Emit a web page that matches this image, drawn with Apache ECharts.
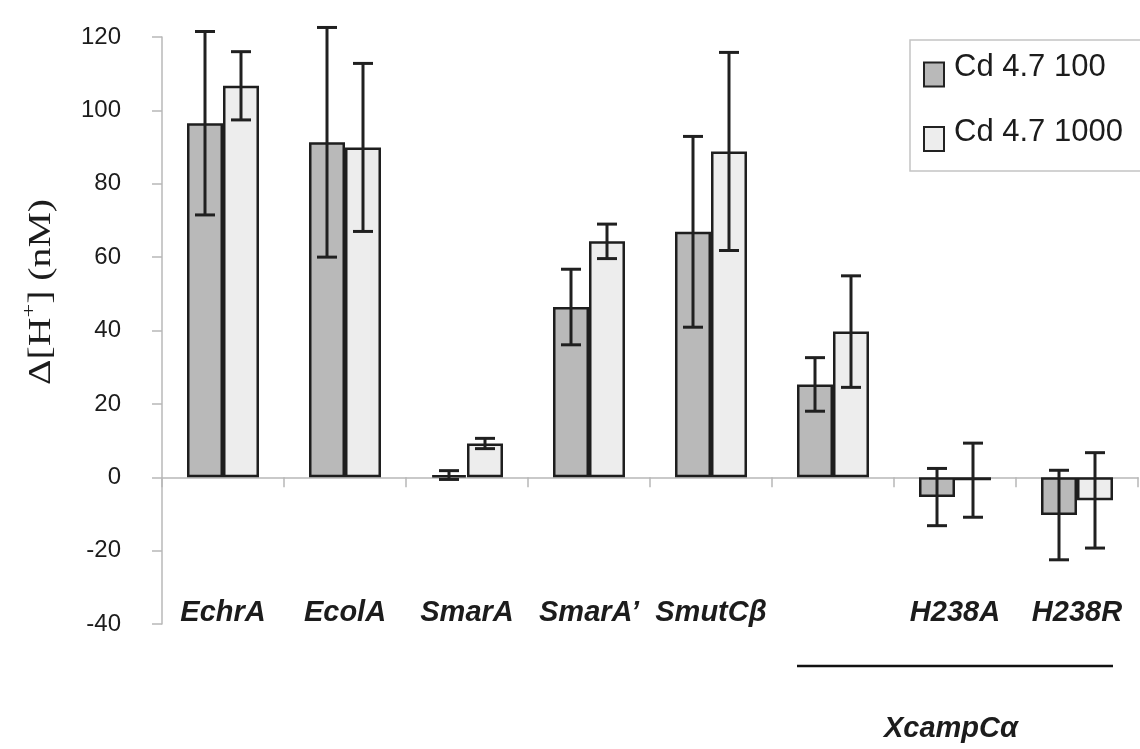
<!DOCTYPE html>
<html>
<head>
<meta charset="utf-8">
<script src="https://cdn.jsdelivr.net/npm/echarts@6/dist/echarts.min.js"></script>
<style>
  html, body { margin: 0; padding: 0; background: #fff; }
  #chart { width: 1140px; height: 749px; }
</style>
</head>
<body>
<div id="chart"></div>
<script>
// Proton release per protein variant, two Cd conditions (mean ± error)
const categories = ['EchrA', 'EcolA', 'SmarA', 'SmarA\u2019', 'SmutC\u03b2', '', 'H238A', 'H238R'];
const seriesNames = ['Cd 4.7 100', 'Cd 4.7 1000'];
const cd100 = [96.5, 91.3, 0.6, 46.4, 66.9, 25.3, -5.4, -10.3];
const cd100Err = [25, 31.3, 1.2, 10.3, 26, 7.3, 7.8, 12.2];
const cd1000 = [106.7, 89.9, 9.2, 64.3, 88.8, 39.7, -0.8, -6.3];
const cd1000Err = [9.3, 22.9, 1.4, 4.7, 27, 15.2, 10.1, 13];
const yTicks = { min: -40, max: 120, step: 20 };
const groupLabel = 'XcampC\u03b1';
const groupStart = 5, groupEnd = 7;

const BAR_FRAC = 0.295;        // each bar's share of the category band
const FONT = '"Liberation Sans", Arial, sans-serif';
const SERIF = '"Liberation Serif", "Times New Roman", serif';
const INK = '#1c1c1c';

function errorBars(values, errs, side) {
  return {
    type: 'custom',
    xAxisIndex: 0,
    yAxisIndex: 0,
    silent: true,
    z: 5,
    data: values.map((v, i) => [i, v, errs[i]]),
    encode: { x: 0, y: 1 },
    renderItem: function (params, api) {
      const i = api.value(0), v = api.value(1), e = api.value(2);
      const band = api.size([1, 0])[0];
      const off = side * band * BAR_FRAC / 2;
      const hi = api.coord([i, v + e]);
      const lo = api.coord([i, v - e]);
      const x = hi[0] + off;
      const cap = 10;
      const st = { stroke: '#202020', lineWidth: 3 };
      return {
        type: 'group',
        children: [
          { type: 'line', shape: { x1: x, y1: hi[1], x2: x, y2: lo[1] }, style: st },
          { type: 'line', shape: { x1: x - cap, y1: hi[1], x2: x + cap, y2: hi[1] }, style: st },
          { type: 'line', shape: { x1: x - cap, y1: lo[1], x2: x + cap, y2: lo[1] }, style: st }
        ]
      };
    }
  };
}

const chart = echarts.init(document.getElementById('chart'), null, { renderer: 'canvas' });

const option = {
  animation: false,
  backgroundColor: '#ffffff',
  grid: { left: 162, right: 2, top: 37, bottom: 125, containLabel: false },
  legend: {
    data: seriesNames,
    orient: 'vertical',
    left: 910,
    top: 40,
    padding: [12, 90, 19, 13],
    itemGap: 29,
    itemWidth: 20,
    itemHeight: 24,
    icon: 'rect',
    borderColor: '#c4c4c4',
    borderWidth: 1.5,
    itemStyle: { borderColor: '#222', borderWidth: 2 },
    formatter: '{t|{name}}',
    textStyle: {
      fontFamily: FONT,
      fontSize: 31,
      color: INK,
      rich: {
        t: { fontFamily: FONT, fontSize: 31, color: INK, padding: [0, 0, 14, 5] }
      }
    }
  },
  xAxis: [
    {
      type: 'category',
      data: categories,
      boundaryGap: true,
      axisLine: { onZero: true, lineStyle: { color: '#b8b8b8', width: 1.5 } },
      axisTick: { show: true, inside: false, length: 10, lineStyle: { color: '#b8b8b8', width: 1.5 } },
      axisLabel: { show: false },
      splitLine: { show: false }
    },
    {
      type: 'category',
      data: categories,
      position: 'bottom',
      boundaryGap: true,
      axisLine: { show: false, onZero: false },
      axisTick: { show: false },
      splitLine: { show: false },
      axisLabel: {
        show: true,
        interval: 0,
        margin: -11,
        verticalAlign: 'middle',
        fontFamily: FONT,
        fontSize: 29,
        fontWeight: 'bold',
        fontStyle: 'italic',
        color: INK
      }
    }
  ],
  yAxis: {
    type: 'value',
    min: yTicks.min,
    max: yTicks.max,
    interval: yTicks.step,
    axisLine: { show: true, lineStyle: { color: '#b8b8b8', width: 1.5 } },
    axisTick: { show: true, inside: false, length: 10, lineStyle: { color: '#b8b8b8', width: 1.5 } },
    splitLine: { show: false },
    axisLabel: {
      margin: 41,
      fontFamily: FONT,
      fontSize: 24,
      color: INK,
      padding: [0, 0, 16, 0]
    }
  },
  series: [
    {
      name: seriesNames[0],
      type: 'bar',
      data: cd100,
      barWidth: (BAR_FRAC * 100) + '%',
      barGap: '0%',
      itemStyle: { color: '#b9b9b9', borderColor: '#1e1e1e', borderWidth: 2.5 }
    },
    {
      name: seriesNames[1],
      type: 'bar',
      data: cd1000,
      barWidth: (BAR_FRAC * 100) + '%',
      barGap: '0%',
      itemStyle: { color: '#ededed', borderColor: '#1e1e1e', borderWidth: 2.5 }
    },
    errorBars(cd100, cd100Err, -1),
    errorBars(cd1000, cd1000Err, 1)
  ]
};

chart.setOption(option);

// Bracket under the three XcampCα columns, placed from the category scale
const pa = chart.convertToPixel({ xAxisIndex: 0, yAxisIndex: 0 }, [groupStart, 0]);
const pb = chart.convertToPixel({ xAxisIndex: 0, yAxisIndex: 0 }, [groupEnd, 0]);
const band = (pb[0] - pa[0]) / (groupEnd - groupStart);
const bx1 = pa[0] - band * BAR_FRAC;
const bx2 = pb[0] + band * BAR_FRAC;

chart.setOption({
  graphic: [
    {
      type: 'line',
      shape: { x1: bx1, y1: 666, x2: bx2, y2: 666 },
      style: { stroke: '#111', lineWidth: 2.5 }
    },
    {
      type: 'text',
      x: (bx1 + bx2) / 2 - 4,
      y: 729,
      style: {
        text: groupLabel,
        font: 'italic bold 29px ' + FONT,
        fill: INK,
        align: 'center',
        verticalAlign: 'middle'
      }
    },
    {
      type: 'text',
      x: 38,
      y: 292,
      rotation: Math.PI / 2,
      scaleX: 1.28,
      style: {
        text: '{a|\u0394[H}{s|+}{a|] (nM)}',
        align: 'center',
        verticalAlign: 'middle',
        fill: INK,
        rich: {
          a: { fontFamily: SERIF, fontSize: 31, fill: INK, padding: [7, 0, 0, 0] },
          s: { fontFamily: SERIF, fontSize: 19, fill: INK, padding: [0, 0, 16, 0] }
        }
      }
    }
  ]
});
</script>
</body>
</html>
